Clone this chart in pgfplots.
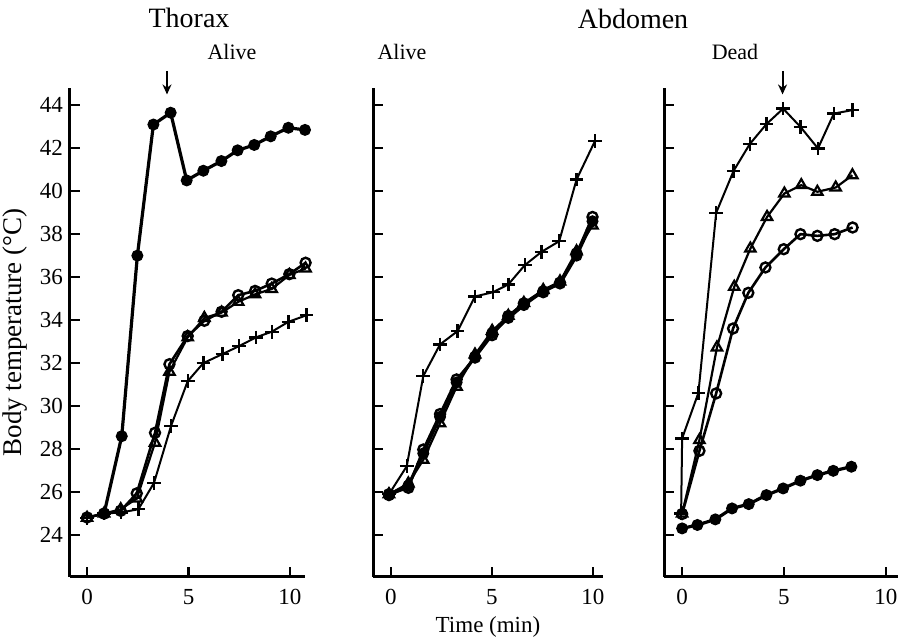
\documentclass[border=0pt]{standalone}
\usepackage{fontspec}
\setmainfont{Liberation Serif}
\usepackage{pgfplots}
\pgfplotsset{compat=1.18}
\usetikzlibrary{arrows.meta}
\pgfplotsset{
 panel/.style={scale only axis, axis lines*=left,
   axis line style={line width=1.5pt},
   tick align=inside, major tick length=5pt,
   every tick/.style={line width=1.1pt, black},
   ymin=22.05, ymax=44.8, xtick={0,5,10}, ytick={24,26,...,44},
   height=244.5pt,
   /pgf/number format/assume math mode=true,
   tick label style={font=\fontsize{11.5}{13}\selectfont},
   xticklabel style={yshift=-2.5pt},
   clip=false},
 fc/.style={black, line width=1.6pt, mark=*, mark size=2.7pt, mark options={fill=black, line width=0.6pt}},
 oc/.style={black, line width=1.3pt, mark=o, mark size=2.5pt, mark options={fill=white, line width=1.2pt}},
 tr/.style={black, line width=1.1pt, mark=triangle, mark size=3pt, mark options={fill=white, line width=1.1pt}},
 pl/.style={black, line width=1pt, mark=+, mark size=3.4pt, mark options={line width=1.2pt}},
}
\begin{document}
\begin{tikzpicture}
\useasboundingbox (0,0) rectangle (449.5pt,320pt);
% ---------------- Thorax, alive
\begin{axis}[panel, at={(35pt,31.5pt)}, anchor=south west, width=117.5pt,
  xmin=-0.84, xmax=10.74,
  ylabel={Body temperature (°C)},
  ylabel style={at={(axis description cs:-0.234,0.5)}, anchor=center, font=\fontsize{13.5}{15}\selectfont}]
\addplot[pl] coordinates {(0,24.8)(0.84,25.0)(1.66,25.05)(2.53,25.2)(3.3,26.43)(4.14,29.08)(4.96,31.16)(5.73,32.0)(6.67,32.42)(7.49,32.79)(8.33,33.2)(9.1,33.46)(9.92,33.92)(10.82,34.23)};
\addplot[tr] coordinates {(0,24.8)(0.84,25.0)(1.66,25.2)(2.45,25.7)(3.35,28.3)(4.06,31.6)(4.96,33.2)(5.78,34.1)(6.63,34.35)(7.45,34.85)(8.28,35.2)(9.1,35.45)(9.97,36.1)(10.77,36.4)};
\addplot[oc] coordinates {(0,24.82)(0.84,25.0)(1.66,25.13)(2.45,25.94)(3.35,28.76)(4.06,31.95)(4.96,33.26)(5.78,33.97)(6.63,34.39)(7.45,35.16)(8.28,35.36)(9.1,35.7)(9.97,36.14)(10.77,36.67)};
\addplot[fc] coordinates {(0.84,25.0)(1.71,28.6)(2.48,37.0)(3.27,43.1)(4.12,43.65)(4.91,40.5)(5.73,40.95)(6.62,41.4)(7.42,41.9)(8.24,42.15)(9.05,42.55)(9.92,42.95)(10.74,42.85)};
\draw[-{Stealth[length=5pt,width=4.5pt]}, line width=1pt] (axis cs:3.94,45.6) -- (axis cs:3.94,44.5);
\end{axis}
% ---------------- Abdomen, alive
\begin{axis}[panel, at={(186.5pt,31.5pt)}, anchor=south west, width=115pt,
  xmin=-0.89, xmax=10.5, yticklabels={},
  xlabel={Time (min)},
  xlabel style={at={(axis description cs:0.5,-0.102)}, anchor=center, font=\fontsize{11.5}{13}\selectfont}]
\addplot[pl] coordinates {(-0.1,25.9)(0.78,27.2)(1.6,31.4)(2.43,32.87)(3.3,33.49)(4.16,35.1)(5.06,35.3)(5.81,35.66)(6.63,36.56)(7.46,37.18)(8.33,37.67)(9.19,40.54)(10.1,42.33)};
\addplot[tr] coordinates {(-0.1,25.9)(0.86,26.4)(1.6,27.5)(2.43,29.2)(3.25,30.9)(4.16,32.4)(5.01,33.5)(5.81,34.2)(6.58,34.8)(7.54,35.4)(8.37,35.8)(9.19,37.2)(9.98,38.4)};
\addplot[fc] coordinates {(-0.1,25.85)(0.86,26.3)(1.6,27.8)(2.43,29.5)(3.25,31.1)(4.16,32.3)(5.01,33.4)(5.81,34.1)(6.58,34.7)(7.54,35.35)(8.37,35.7)(9.19,37.0)(9.98,38.6)};
\addplot[oc] coordinates {(-0.1,25.9)(0.86,26.2)(1.6,27.98)(2.43,29.63)(3.25,31.24)(4.16,32.26)(5.01,33.3)(5.81,34.19)(6.58,34.78)(7.54,35.3)(8.37,35.74)(9.19,37.1)(9.98,38.8)};
\end{axis}
% ---------------- Abdomen, dead
\begin{axis}[panel, at={(332pt,31.5pt)}, anchor=south west, width=117pt,
  xmin=-0.89, xmax=10.6, yticklabels={}]
\addplot[pl] coordinates {(-0.05,25.0)(0.0,28.5)(0.8,30.62)(1.67,38.99)(2.53,40.95)(3.32,42.19)(4.14,43.12)(4.96,43.84)(5.81,42.99)(6.67,41.99)(7.45,43.61)(8.36,43.77)};
\addplot[tr] coordinates {(0,25.0)(0.85,28.42)(1.71,32.73)(2.56,35.55)(3.35,37.33)(4.17,38.8)(5.02,39.89)(5.85,40.28)(6.64,39.97)(7.54,40.17)(8.36,40.74)};
\addplot[oc] coordinates {(0,24.98)(0.85,27.92)(1.67,30.59)(2.5,33.61)(3.25,35.27)(4.09,36.45)(4.99,37.3)(5.81,38.0)(6.64,37.92)(7.49,38.0)(8.37,38.31)};
\addplot[fc] coordinates {(0,24.31)(0.75,24.47)(1.63,24.73)(2.45,25.24)(3.27,25.44)(4.14,25.86)(4.96,26.17)(5.81,26.53)(6.64,26.79)(7.42,26.99)(8.31,27.18)};
\draw[-{Stealth[length=5pt,width=4.5pt]}, line width=1pt] (axis cs:4.93,45.6) -- (axis cs:4.93,44.5);
\end{axis}
% ---------------- titles
\node[font=\fontsize{14}{16}\selectfont] at (94.5pt,311pt) {Thorax};
\node[font=\fontsize{14}{16}\selectfont] at (316.5pt,310.5pt) {Abdomen};
\node[font=\fontsize{11}{13}\selectfont] at (116pt,294pt) {Alive};
\node[font=\fontsize{11}{13}\selectfont] at (201pt,294pt) {Alive};
\node[font=\fontsize{11}{13}\selectfont] at (367.5pt,294pt) {Dead};
\end{tikzpicture}
\end{document}
